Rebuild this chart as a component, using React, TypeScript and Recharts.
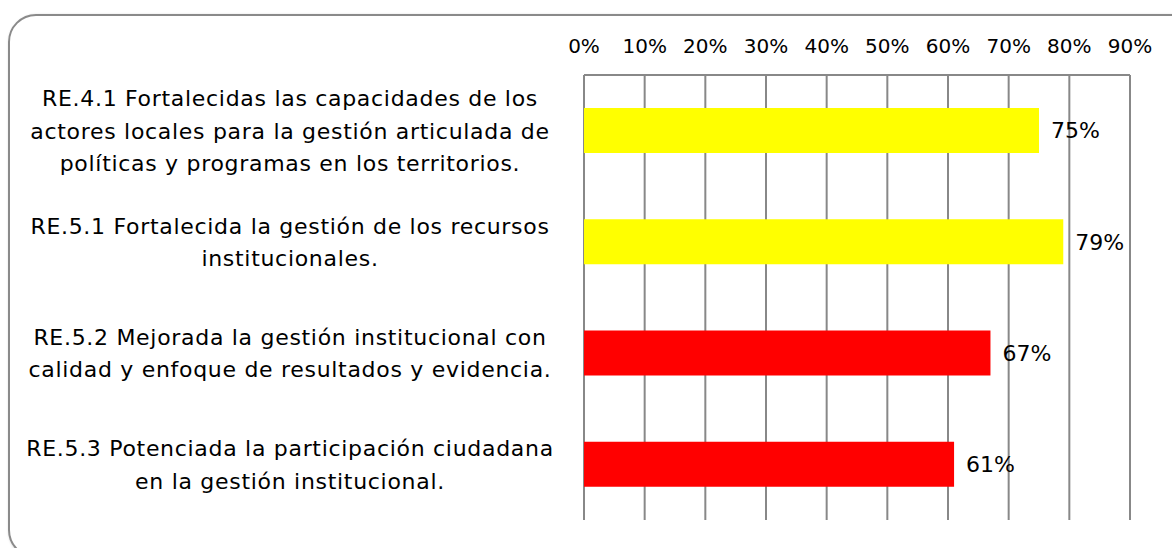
import { BarChart, Bar, XAxis, YAxis, CartesianGrid, Cell, LabelList } from "recharts";

const categoryLines: string[][] = [
  [
    "RE.4.1 Fortalecidas las capacidades de los",
    "actores locales para la gestión articulada de",
    "políticas y programas en los territorios.",
  ],
  ["RE.5.1 Fortalecida la gestión de los recursos", "institucionales."],
  ["RE.5.2 Mejorada la gestión institucional con", "calidad y enfoque de resultados y evidencia."],
  ["RE.5.3 Potenciada la participación ciudadana", "en la gestión institucional."],
];

const categories = ["RE.4.1", "RE.5.1", "RE.5.2", "RE.5.3"];
const values = [75, 79, 67, 61];
const xTicks = [0, 10, 20, 30, 40, 50, 60, 70, 80, 90];
const barColors = ["#FFFF00", "#FFFF00", "#FF0000", "#FF0000"];

const data = categories.map((c, i) => ({ name: c, value: values[i] }));

const FONT = "'DejaVu Sans', sans-serif";

const CategoryTick = (props: any) => {
  const { y, payload } = props;
  const lines = categoryLines[payload.index] || [];
  const lineHeight = 32.5;
  const startY = y - ((lines.length - 1) * lineHeight) / 2;
  return (
    <text
      x={290}
      y={startY}
      textAnchor="middle"
      dominantBaseline="central"
      fontFamily={FONT}
      fontSize={22}
      letterSpacing={0.7}
      fill="#000"
    >
      {lines.map((line, i) => (
        <tspan key={i} x={290} y={startY + i * lineHeight}>
          {line}
        </tspan>
      ))}
    </text>
  );
};

export default function App() {
  return (
    <div
      style={{
        position: "fixed",
        left: 0,
        top: 0,
        width: 1172,
        height: 548,
        overflow: "hidden",
        background: "#fff",
      }}
    >
      <div
        style={{
          position: "absolute",
          left: 8,
          top: 14,
          width: 1200,
          height: 540,
          border: "2px solid #8a8a8a",
          borderRadius: 28,
          boxShadow: "1px 1px 3px rgba(0,0,0,0.25)",
        }}
      />
      <div style={{ position: "absolute", left: 0, top: 0 }}>
        <BarChart
          width={1172}
          height={548}
          data={data}
          layout="vertical"
          margin={{ top: 35, right: 42, bottom: 28, left: 0 }}
          barSize={45}
        >
          <CartesianGrid vertical horizontal={false} stroke="#888" strokeWidth={2} />
          <XAxis
            type="number"
            orientation="top"
            domain={[0, 90]}
            ticks={xTicks}
            interval={0}
            tickFormatter={(v) => `${v}%`}
            axisLine={{ stroke: "#888", strokeWidth: 2 }}
            tickLine={false}
            tickSize={0}
            tickMargin={22}
            height={40}
            tick={{ fill: "#000", fontSize: 20, fontFamily: FONT }}
          />
          <YAxis
            type="category"
            dataKey="name"
            width={584}
            axisLine={false}
            tickLine={false}
            tick={<CategoryTick />}
            interval={0}
          />
          <Bar dataKey="value" isAnimationActive={false}>
            {data.map((_, i) => (
              <Cell key={`cell-${i}`} fill={barColors[i]} />
            ))}
            <LabelList
              dataKey="value"
              position="right"
              offset={12}
              formatter={(v: any) => `${v}%`}
              fill="#000"
              fontSize={22}
              fontFamily={FONT}
            />
          </Bar>
        </BarChart>
      </div>
    </div>
  );
}
